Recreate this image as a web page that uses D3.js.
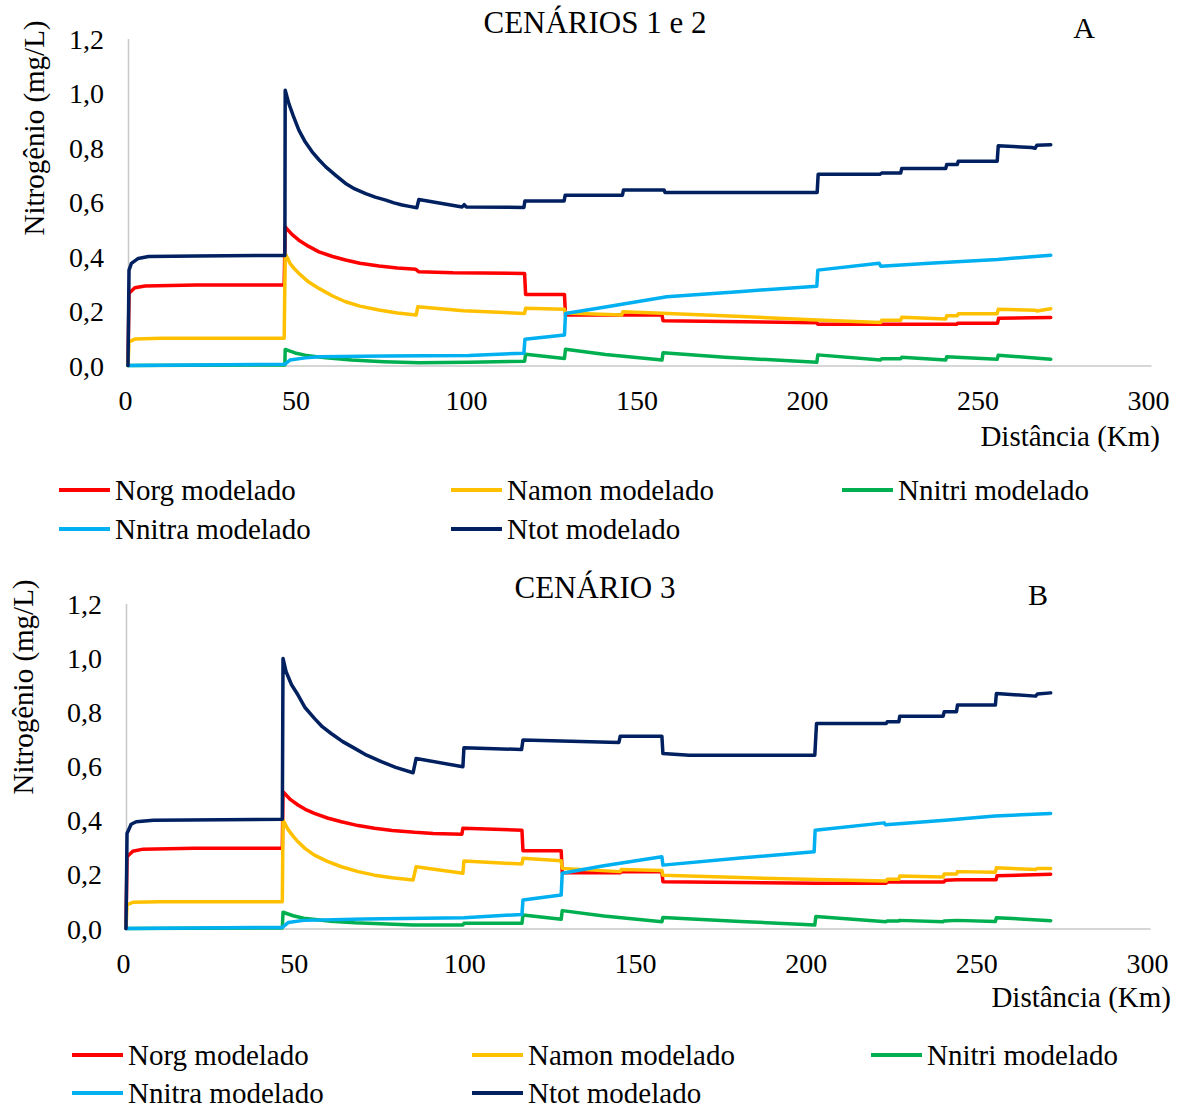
<!DOCTYPE html>
<html>
<head>
<meta charset="utf-8">
<script src="https://cdn.jsdelivr.net/npm/d3@7"></script>
<style>
    body { margin: 0; background: #fff; }
    svg text { font-family: "Liberation Serif", "Times New Roman", serif; fill: #000; }
</style>
</head>
<body>
<svg id="drawing_region"></svg>
<script>
// ---- data (distance km, nitrogen mg/L) ----
const xTicks = [0, 50, 100, 150, 200, 250, 300];
const yTicks = [0, 0.2, 0.4, 0.6, 0.8, 1.0, 1.2];
const yTickLabels = ['0,0', '0,2', '0,4', '0,6', '0,8', '1,0', '1,2'];
const seriesNames = ['Norg modelado', 'Namon modelado', 'Nnitri modelado', 'Nnitra modelado', 'Ntot modelado'];
const seriesColors = ['#ff0000', '#ffc000', '#00b050', '#00b0f0', '#002060'];

// panel A - cenarios 1 e 2
const aNorg = [[0,0],[0.3,0.265],[2,0.285],[5,0.292],[20,0.295],[45.8,0.295],[46.1,0.509],[48,0.482],[50.1,0.46],[53,0.437],[56,0.417],[60,0.4],[63.8,0.387],[68,0.375],[73.6,0.365],[79,0.358],[84.4,0.353],[85.3,0.344],[95.3,0.34],[116.3,0.338],[116.6,0.261],[128,0.261],[128.3,0.185],[156.6,0.185],[156.9,0.164],[202,0.157],[202.3,0.151],[243,0.151],[243.3,0.155],[255,0.155],[255.3,0.173],[270.6,0.176]];
const aNamon = [[0,0],[0.3,0.087],[2,0.097],[10,0.1],[45.8,0.1],[46.1,0.411],[47.5,0.375],[49,0.352],[50.1,0.338],[53,0.306],[56,0.283],[60,0.255],[63.8,0.234],[68,0.218],[73.6,0.204],[79,0.193],[84.5,0.185],[85,0.216],[98.4,0.201],[116.3,0.191],[116.6,0.21],[128,0.206],[128.3,0.193],[144.8,0.185],[145.1,0.197],[156.6,0.192],[180,0.18],[202,0.167],[220.7,0.158],[221,0.166],[226.6,0.166],[226.9,0.177],[239.8,0.171],[240.1,0.183],[243.2,0.183],[243.5,0.19],[254.9,0.19],[255.2,0.206],[266,0.203],[266.5,0.2],[270.6,0.208]];
const aNnitri = [[0,0],[46,0.002],[46.1,0.059],[49,0.046],[51.9,0.038],[58,0.028],[65.6,0.02],[75,0.014],[85.3,0.01],[100,0.012],[116.3,0.016],[116.6,0.041],[128,0.026],[128.3,0.06],[140,0.04],[156.6,0.02],[156.9,0.047],[175,0.03],[202,0.012],[202.3,0.039],[220.7,0.02],[221,0.025],[226.6,0.025],[226.9,0.03],[239.8,0.02],[240.1,0.032],[254.9,0.023],[255.2,0.038],[270.6,0.023]];
const aNnitra = [[0,0],[20,0.002],[46,0.005],[47.5,0.02],[52,0.028],[56,0.032],[75,0.035],[100,0.037],[116.1,0.045],[116.4,0.096],[128,0.112],[128.3,0.191],[140,0.215],[158,0.252],[180,0.272],[202,0.291],[202.3,0.35],[220.3,0.375],[220.8,0.364],[235,0.375],[255,0.389],[270.6,0.405]];
const aNtot = [[0,0],[0.3,0.35],[1,0.375],[3,0.393],[6,0.4],[20,0.402],[46,0.404],[46.1,1.01],[47.2,0.96],[48.5,0.915],[50.1,0.864],[52,0.82],[54,0.784],[56,0.755],[58,0.729],[61,0.697],[63.8,0.668],[66.5,0.648],[69.7,0.631],[72.5,0.618],[75.6,0.607],[78,0.597],[80.4,0.589],[82.5,0.584],[84.7,0.579],[85.3,0.609],[98,0.582],[98.6,0.59],[99.2,0.582],[116.1,0.58],[116.4,0.604],[127.9,0.604],[128.2,0.625],[145,0.625],[145.3,0.644],[157.2,0.644],[157.5,0.635],[202.1,0.635],[202.4,0.702],[220.5,0.702],[221,0.706],[226.6,0.706],[226.9,0.723],[239.8,0.723],[240.1,0.738],[243.2,0.738],[243.5,0.75],[254.9,0.75],[255.2,0.806],[265,0.8],[266,0.797],[266.5,0.808],[270.6,0.81]];

// panel B - cenario 3
const bNorg = [[0,0],[0.3,0.265],[2,0.285],[5,0.293],[20,0.296],[45.8,0.296],[46,0.505],[48,0.478],[50.4,0.456],[52.5,0.44],[55.2,0.425],[59,0.408],[63.1,0.394],[68,0.38],[72.8,0.37],[78,0.362],[84.6,0.355],[90,0.351],[98.4,0.348],[98.7,0.37],[116,0.363],[116.3,0.287],[127.5,0.287],[127.8,0.206],[144.8,0.206],[145.1,0.21],[157,0.21],[157.3,0.173],[202,0.167],[222.7,0.167],[223,0.172],[239.7,0.172],[240,0.178],[243.3,0.18],[254.9,0.18],[255.2,0.195],[270.9,0.2]];
const bNamon = [[0,0],[0.3,0.087],[2,0.097],[10,0.099],[45.8,0.099],[46,0.4],[47.5,0.365],[49,0.34],[50.4,0.32],[52.5,0.295],[55.2,0.271],[59,0.248],[63.1,0.228],[68,0.21],[72.8,0.197],[78,0.187],[84.1,0.179],[85,0.228],[98.7,0.204],[99,0.249],[116,0.238],[116.3,0.259],[127.5,0.25],[127.8,0.222],[144.8,0.21],[145.1,0.218],[157,0.214],[157.3,0.197],[180,0.188],[202,0.181],[222.7,0.175],[223,0.182],[226.4,0.182],[226.7,0.194],[239.4,0.19],[239.7,0.201],[243.3,0.201],[243.6,0.21],[254.7,0.208],[255,0.224],[266.5,0.218],[267,0.222],[270.9,0.222]];
const bNnitri = [[0,0],[45.8,0.002],[46,0.06],[49,0.047],[52,0.038],[60,0.027],[67,0.021],[84,0.013],[98.7,0.013],[99,0.019],[116,0.019],[116.3,0.05],[127.5,0.034],[127.8,0.066],[140,0.046],[157,0.025],[157.3,0.041],[180,0.026],[201.8,0.013],[202.1,0.044],[222.7,0.025],[223,0.028],[226.4,0.028],[226.7,0.03],[239.4,0.025],[239.7,0.028],[243.3,0.03],[254.7,0.026],[255,0.04],[270.9,0.029]];
const bNnitra = [[0,0],[20,0.002],[45.8,0.004],[47.5,0.022],[52,0.03],[70,0.035],[99,0.04],[116,0.052],[116.3,0.105],[127.5,0.124],[127.8,0.204],[140,0.232],[157,0.265],[157.3,0.234],[180,0.26],[201.6,0.283],[201.9,0.363],[222.1,0.39],[222.5,0.383],[240,0.4],[254.6,0.415],[270.9,0.425]];
const bNtot = [[0,0],[0.3,0.351],[1.5,0.385],[3,0.394],[8,0.4],[45.8,0.403],[46,0.997],[46.9,0.948],[48.5,0.9],[50.4,0.862],[52.5,0.815],[55.2,0.776],[57.5,0.745],[60.1,0.72],[63.5,0.69],[67,0.665],[70.5,0.64],[74.8,0.616],[79,0.595],[84.1,0.575],[85,0.628],[98.7,0.597],[99,0.667],[115.9,0.661],[116.3,0.696],[144.4,0.687],[144.8,0.71],[157,0.71],[157.3,0.646],[165,0.64],[201.8,0.64],[202.3,0.757],[222.7,0.757],[223,0.763],[226.4,0.763],[226.7,0.784],[239.4,0.784],[239.7,0.8],[243.3,0.8],[243.6,0.825],[254.7,0.825],[255,0.868],[266.5,0.858],[267,0.866],[270.9,0.87]];

const svg = d3.select('#drawing_region')
    .attr('width', 1184)
    .attr('height', 1108)
    .style('font-family', '"Liberation Serif", "Times New Roman", serif');

const panels = [
    {
        series: [aNorg, aNamon, aNnitri, aNnitra, aNtot],
        title: 'CENÁRIOS 1 e 2', letter: 'A',
        left: 128, right: 1151, top: 38.5, bottom: 365.5,
        titleX: 595, titleY: 33, letterX: 1084, letterY: 38,
        yTitleX: 44, yTitleY: 128,
        xTitleX: 1160, xTitleY: 446,
        legend: { lineX: [59, 451, 842], textGap: 56, rows: [490, 529] }
    },
    {
        series: [bNorg, bNamon, bNnitri, bNnitra, bNtot],
        title: 'CENÁRIO 3', letter: 'B',
        left: 126, right: 1150, top: 603.5, bottom: 928.5,
        titleX: 595, titleY: 598, letterX: 1038, letterY: 605,
        yTitleX: 33, yTitleY: 687,
        xTitleX: 1171, xTitleY: 1007,
        legend: { lineX: [72, 472, 871], textGap: 56, rows: [1055, 1093] }
    }
];

panels.forEach(p => drawPanel(p));

function drawPanel(p) {
    const xscale = d3.scaleLinear().domain([0, 300]).range([p.left, p.right]);
    const yscale = d3.scaleLinear().domain([0, 1.2]).range([p.bottom, p.top]);

    const g = svg.append('g');

    // axes
    const xaxis = d3.axisBottom(xscale)
        .tickValues(xTicks)
        .tickSize(0)
        .tickSizeOuter(0)
        .tickFormat(d => d);
    const yaxis = d3.axisLeft(yscale)
        .tickValues(yTicks)
        .tickSize(0)
        .tickSizeOuter(0)
        .tickFormat((d, i) => yTickLabels[i]);

    const gx = g.append('g')
        .attr('transform', `translate(0, ${p.bottom})`)
        .call(xaxis);
    gx.attr('font-family', null);
    gx.selectAll('text')
        .attr('y', 44)
        .attr('dy', 0)
        .attr('dx', -3)
        .attr('font-size', 28);

    const gy = g.append('g')
        .attr('transform', `translate(${p.left}, 0)`)
        .call(yaxis);
    gy.attr('font-family', null);
    gy.selectAll('text')
        .attr('x', -24)
        .attr('dy', '0.34em')
        .attr('font-size', 28);

    g.selectAll('.domain')
        .attr('stroke', '#c8c8c8')
        .attr('stroke-width', 1.5);

    // series
    const line = d3.line()
        .x(d => xscale(d[0]))
        .y(d => yscale(d[1]));

    p.series.forEach((s, i) => {
        g.append('path')
            .datum(s)
            .attr('d', line)
            .attr('fill', 'none')
            .attr('stroke', seriesColors[i])
            .attr('stroke-width', 3.5)
            .attr('stroke-linejoin', 'round')
            .attr('stroke-linecap', 'round');
    });

    // titles
    g.append('text')
        .attr('x', p.titleX).attr('y', p.titleY)
        .attr('text-anchor', 'middle')
        .attr('font-size', 31)
        .text(p.title);

    g.append('text')
        .attr('x', p.letterX).attr('y', p.letterY)
        .attr('text-anchor', 'middle')
        .attr('font-size', 30)
        .text(p.letter);

    g.append('text')
        .attr('transform', `translate(${p.yTitleX}, ${p.yTitleY}) rotate(-90)`)
        .attr('text-anchor', 'middle')
        .attr('font-size', 29)
        .text('Nitrogênio (mg/L)');

    g.append('text')
        .attr('x', p.xTitleX).attr('y', p.xTitleY)
        .attr('text-anchor', 'end')
        .attr('font-size', 29)
        .text('Distância (Km)');

    // legend (3 per row)
    const lg = g.append('g');
    seriesNames.forEach((name, i) => {
        const lx = p.legend.lineX[i % 3];
        const ly = p.legend.rows[Math.floor(i / 3)];
        lg.append('line')
            .attr('x1', lx).attr('x2', lx + 51)
            .attr('y1', ly).attr('y2', ly)
            .attr('stroke', seriesColors[i])
            .attr('stroke-width', 4);
        lg.append('text')
            .attr('x', lx + p.legend.textGap)
            .attr('y', ly)
            .attr('dy', '0.34em')
            .attr('font-size', 29)
            .text(name);
    });
}
</script>
</body>
</html>
